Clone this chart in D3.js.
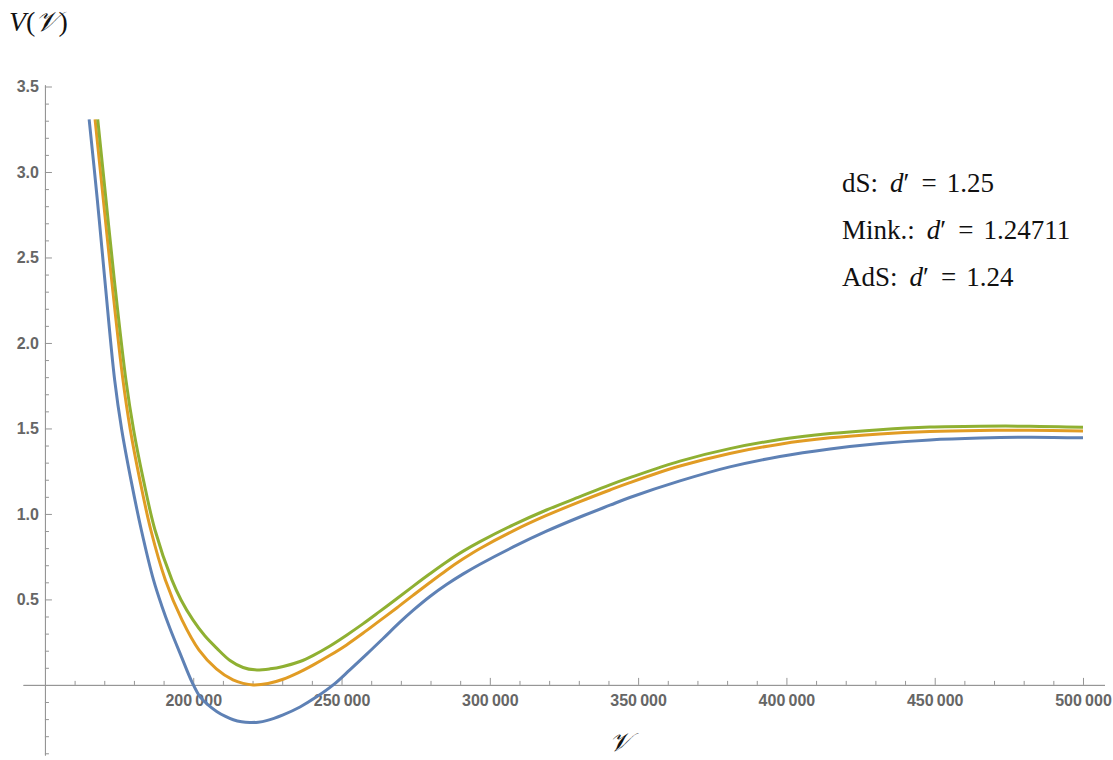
<!DOCTYPE html>
<html>
<head>
<meta charset="utf-8">
<script src="https://cdn.jsdelivr.net/npm/d3@7"></script>
<style>
  body { margin: 0; background: #fff; }
  .tick-label { font-family: "Liberation Sans", Arial, sans-serif; font-weight: bold; }
  .serif { font-family: "Liberation Serif", "DejaVu Serif", serif; fill: #111; }
</style>
</head>
<body>
<div id="chart"></div>
<script>
// Curve samples (nu, V)
var nuAdS = [164900, 167600, 170200, 173500, 175900, 179000, 182500, 186600, 189400, 192100, 195900, 199700,
  202300, 205000, 207900, 210700, 213500, 216300, 219100, 221900, 224700, 230300, 236000, 241600, 247200,
  252800, 258500, 264100, 269700, 274200, 279800, 285400, 290900, 296700, 307900, 319100, 330400, 340500,
  347200, 364100, 380900, 397800, 414700, 431500, 448400, 465200, 482100, 500000];
var vAdS = [3.308, 2.848, 2.368, 1.784, 1.491, 1.199, 0.906, 0.614, 0.462, 0.333, 0.170, 0.012,
  -0.070, -0.117, -0.155, -0.183, -0.204, -0.216, -0.220, -0.218, -0.209, -0.175, -0.129, -0.070, 0.0,
  0.088, 0.180, 0.273, 0.367, 0.437, 0.517, 0.587, 0.648, 0.706, 0.807, 0.899, 0.982, 1.051,
  1.096, 1.193, 1.275, 1.336, 1.380, 1.412, 1.433, 1.444, 1.449, 1.445];

var nuMink = [166900, 169700, 172500, 176300, 178800, 182000, 185700, 190600, 196200, 201900, 207800, 213400,
  216800, 220200, 225200, 230300, 235300, 240500, 246100, 251700, 257200, 262900, 268600, 274200, 279800,
  285400, 290900, 296700, 307900, 319100, 330400, 340500, 347200, 364100, 380900, 397800, 414700, 431500,
  448400, 465200, 482100, 500000];
var vMink = [3.308, 2.836, 2.368, 1.784, 1.491, 1.199, 0.906, 0.614, 0.380, 0.205, 0.094, 0.029,
  0.009, 0.0, 0.008, 0.033, 0.070, 0.117, 0.173, 0.234, 0.302, 0.376, 0.450, 0.525, 0.599,
  0.671, 0.736, 0.798, 0.901, 0.991, 1.072, 1.140, 1.183, 1.280, 1.354, 1.408, 1.445, 1.468,
  1.482, 1.488, 1.489, 1.485];

var nuDS = [167800, 170600, 173400, 177300, 179900, 183200, 187100, 192800, 195900, 199900, 203900, 207900,
  212400, 216800, 220800, 225900, 230300, 236000, 240500, 246100, 251700, 257200, 262900, 268600, 274200,
  279800, 285400, 290900, 296700, 307900, 319100, 330400, 340500, 347200, 364100, 380900, 397800, 414700,
  431500, 448400, 465200, 482100, 500000];
var vDS = [3.308, 2.836, 2.368, 1.784, 1.491, 1.199, 0.906, 0.614, 0.497, 0.380, 0.287, 0.215,
  0.143, 0.102, 0.088, 0.094, 0.108, 0.137, 0.173, 0.228, 0.291, 0.357, 0.430, 0.504, 0.578,
  0.650, 0.719, 0.781, 0.838, 0.936, 1.023, 1.101, 1.170, 1.212, 1.309, 1.382, 1.435, 1.470,
  1.493, 1.508, 1.513, 1.513, 1.507];

var seriesColors = ["#5e81b5", "#e19c24", "#8fb032"];

var xTicks = [200000, 250000, 300000, 350000, 400000, 450000, 500000];
var yTicks = [0.5, 1.0, 1.5, 2.0, 2.5, 3.0, 3.5];

var legendLabels = ["dS:", "Mink.:", "AdS:"];
var legendValues = ["1.25", "1.24711", "1.24"];

var svgWidth = 1113;
var svgHeight = 760;

var svg = d3.select("#chart")
  .append("svg")
  .attr("width", svgWidth)
  .attr("height", svgHeight);

// Scales (axes cross at nu = 150000, V = 0)
var xScale = d3.scaleLinear()
  .domain([142600, 507250])
  .range([23, 1104.5]);

var yScale = d3.scaleLinear()
  .domain([-0.41, 3.51])
  .range([755, 84.8]);

var axisColor = "#959595";
var labelColor = "#666666";
var fmt = d3.formatLocale({ decimal: ".", thousands: "\u2009", grouping: [3], currency: ["", ""] }).format(",");

// minor ticks
var xMinor = d3.range(160000, 500001, 10000).filter(v => v % 50000 !== 0);
var yMinor = d3.range(-4, 36).map(v => v / 10).filter(v => Math.round(v * 10) % 5 !== 0);

var xAxisG = svg.append("g")
  .attr("transform", `translate(0, ${yScale(0)})`);
xAxisG.call(d3.axisBottom(xScale).tickValues(xMinor).tickSizeInner(-4).tickSizeOuter(0).tickFormat(""));
xAxisG.append("g")
  .call(d3.axisBottom(xScale).tickValues(xTicks).tickSizeInner(-7).tickSizeOuter(0).tickPadding(10).tickFormat(fmt));

var yAxisG = svg.append("g")
  .attr("transform", `translate(${xScale(150000)}, 0)`);
yAxisG.call(d3.axisLeft(yScale).tickValues(yMinor).tickSizeInner(-4).tickSizeOuter(0).tickFormat(""));
yAxisG.append("g")
  .call(d3.axisLeft(yScale).tickValues(yTicks).tickSizeInner(-7).tickSizeOuter(0).tickPadding(6).tickFormat(d3.format(".1f")));

xAxisG.select("g").select(".domain").remove();
yAxisG.select("g").select(".domain").remove();
svg.selectAll(".domain").attr("stroke", axisColor);
svg.selectAll(".tick line").attr("stroke", axisColor);
svg.selectAll(".tick text")
  .attr("class", "tick-label")
  .attr("fill", labelColor)
  .style("font-size", "16px");
xAxisG.selectAll(".tick text").attr("y", 10);

// Curves
var series = [
  d3.zip(nuAdS, vAdS),
  d3.zip(nuMink, vMink),
  d3.zip(nuDS, vDS)
];

var line = d3.line()
  .x(d => xScale(d[0]))
  .y(d => yScale(d[1]))
  .curve(d3.curveCatmullRom.alpha(0.5));

svg.append("g")
  .selectAll("path")
  .data(series)
  .enter()
  .append("path")
  .attr("d", line)
  .attr("fill", "none")
  .attr("stroke", (d, i) => seriesColors[i])
  .attr("stroke-width", 3)
  .attr("stroke-linejoin", "round");

// Axis labels
svg.append("text")
  .attr("class", "serif")
  .attr("x", 9)
  .attr("y", 31)
  .style("font-size", "28px")
  .html('<tspan font-style="italic">V</tspan>(<tspan font-style="italic">𝒱</tspan>)');

svg.append("text")
  .attr("class", "serif")
  .attr("x", 620)
  .attr("y", 751)
  .attr("text-anchor", "middle")
  .style("font-size", "26px")
  .style("font-style", "italic")
  .text("𝒱");

// Legend text
var legend = svg.append("g").attr("class", "serif").style("font-size", "27px");
legend.selectAll("text")
  .data(legendLabels)
  .enter()
  .append("text")
  .attr("x", 842)
  .attr("y", (d, i) => 192 + i * 47)
  .each(function(d, i) {
    var t = d3.select(this);
    t.append("tspan").text(d);
    t.append("tspan").attr("dx", 12).style("font-style", "italic").text("d");
    t.append("tspan").text("\u2032");
    t.append("tspan").attr("dx", 12).text("=");
    t.append("tspan").attr("dx", 10).text(legendValues[i]);
  });
</script>
</body>
</html>
